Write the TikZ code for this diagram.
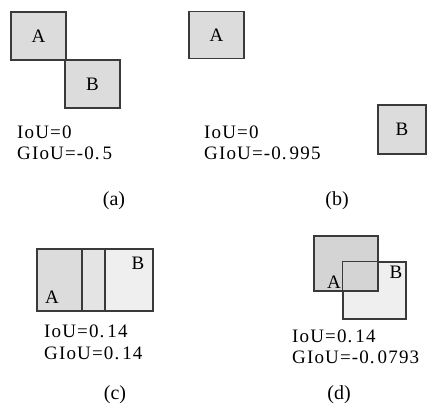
\documentclass[tikz,border=0pt]{standalone}
\usepackage{fontspec}
\setmainfont{Liberation Serif}
\newfontfamily\lblfont[LetterSpace=6]{Liberation Serif}
\newcommand{\pd}{.\kern3pt}
\definecolor{boxgray}{HTML}{DCDCDC}
\definecolor{lightgray2}{HTML}{EFEFEF}
\definecolor{midgray}{HTML}{D4D4D4}
\definecolor{edge}{HTML}{3A3A3A}
\begin{document}
\begin{tikzpicture}[x=1pt,y=-1pt,
  bbox/.style={draw=edge, line width=1.4pt, fill=boxgray, inner sep=0pt},
  letter/.style={font=\fontsize{19}{19}\selectfont, inner sep=0pt},
  metric/.style={font=\lblfont\fontsize{19}{21.5}\selectfont, anchor=west, inner sep=0pt, align=left},
  caption/.style={font=\fontsize{20}{20}\selectfont, inner sep=0pt}]
\useasboundingbox (0,0) rectangle (428,405);
% (a)
\node[bbox, minimum width=55pt, minimum height=48pt] (aA) at (38.5,36) {};
\node[bbox, minimum width=55pt, minimum height=48pt] (aB) at (92.5,84) {};
\node[letter] (aAl) at (aA.center) {A};
\node[letter] (aBl) at (aB.center) {B};
\node[metric] (aIoU) at (17,132) {IoU=0};
\node[metric] (aGIoU) at (17,153) {GIoU=-0\pd5};
\node[caption] (acap) at (114,201) {(a)};
% (b)
\node[bbox, minimum width=55pt, minimum height=47pt] (bA) at (216.5,35) {};
\node[bbox, minimum width=48pt, minimum height=49pt] (bB) at (402,129.5) {};
\node[letter] (bAl) at (bA.center) {A};
\node[letter] (bBl) at (bB.center) {B};
\node[metric] (bIoU) at (204,132) {IoU=0};
\node[metric] (bGIoU) at (204,153) {GIoU=-0\pd995};
\node[caption] (bcap) at (337,201) {(b)};
% (c)
\fill[boxgray] (37,249) rectangle (82,311);
\fill[boxgray!60!lightgray2] (82,249) rectangle (105,311);
\fill[lightgray2] (105,249) rectangle (153,311);
\node[draw=edge, line width=1.4pt, minimum width=116pt, minimum height=62pt, inner sep=0pt] (cR) at (95,280) {};
\coordinate (c1t) at (82,249); \coordinate (c1b) at (82,311);
\coordinate (c2t) at (105,249); \coordinate (c2b) at (105,311);
\draw[edge, line width=1.4pt] (c1t) -- (c1b) (c2t) -- (c2b);
\node[letter] (cAl) at (52,297) {A};
\node[letter] (cBl) at (138,263) {B};
\node[metric] (cIoU) at (44,331) {IoU=0\pd14};
\node[metric] (cGIoU) at (44,353) {GIoU=0\pd14};
\node[caption] (ccap) at (115,395) {(c)};
% (d)
\node[bbox, fill=lightgray2, minimum width=63pt, minimum height=57pt] (dB) at (374.5,290.5) {};
\node[bbox, fill=midgray, minimum width=64pt, minimum height=55pt] (dA) at (346,263.5) {};
\draw[edge, line width=1.4pt] (dB.north west) rectangle (dB.south east);
\node[letter] (dAl) at (334,282) {A};
\node[letter] (dBl) at (396,272) {B};
\node[metric] (dIoU) at (292,336) {IoU=0\pd14};
\node[metric] (dGIoU) at (292,357) {GIoU=-0\pd0793};
\node[caption] (dcap) at (339,395) {(d)};
\end{tikzpicture}
\end{document}
